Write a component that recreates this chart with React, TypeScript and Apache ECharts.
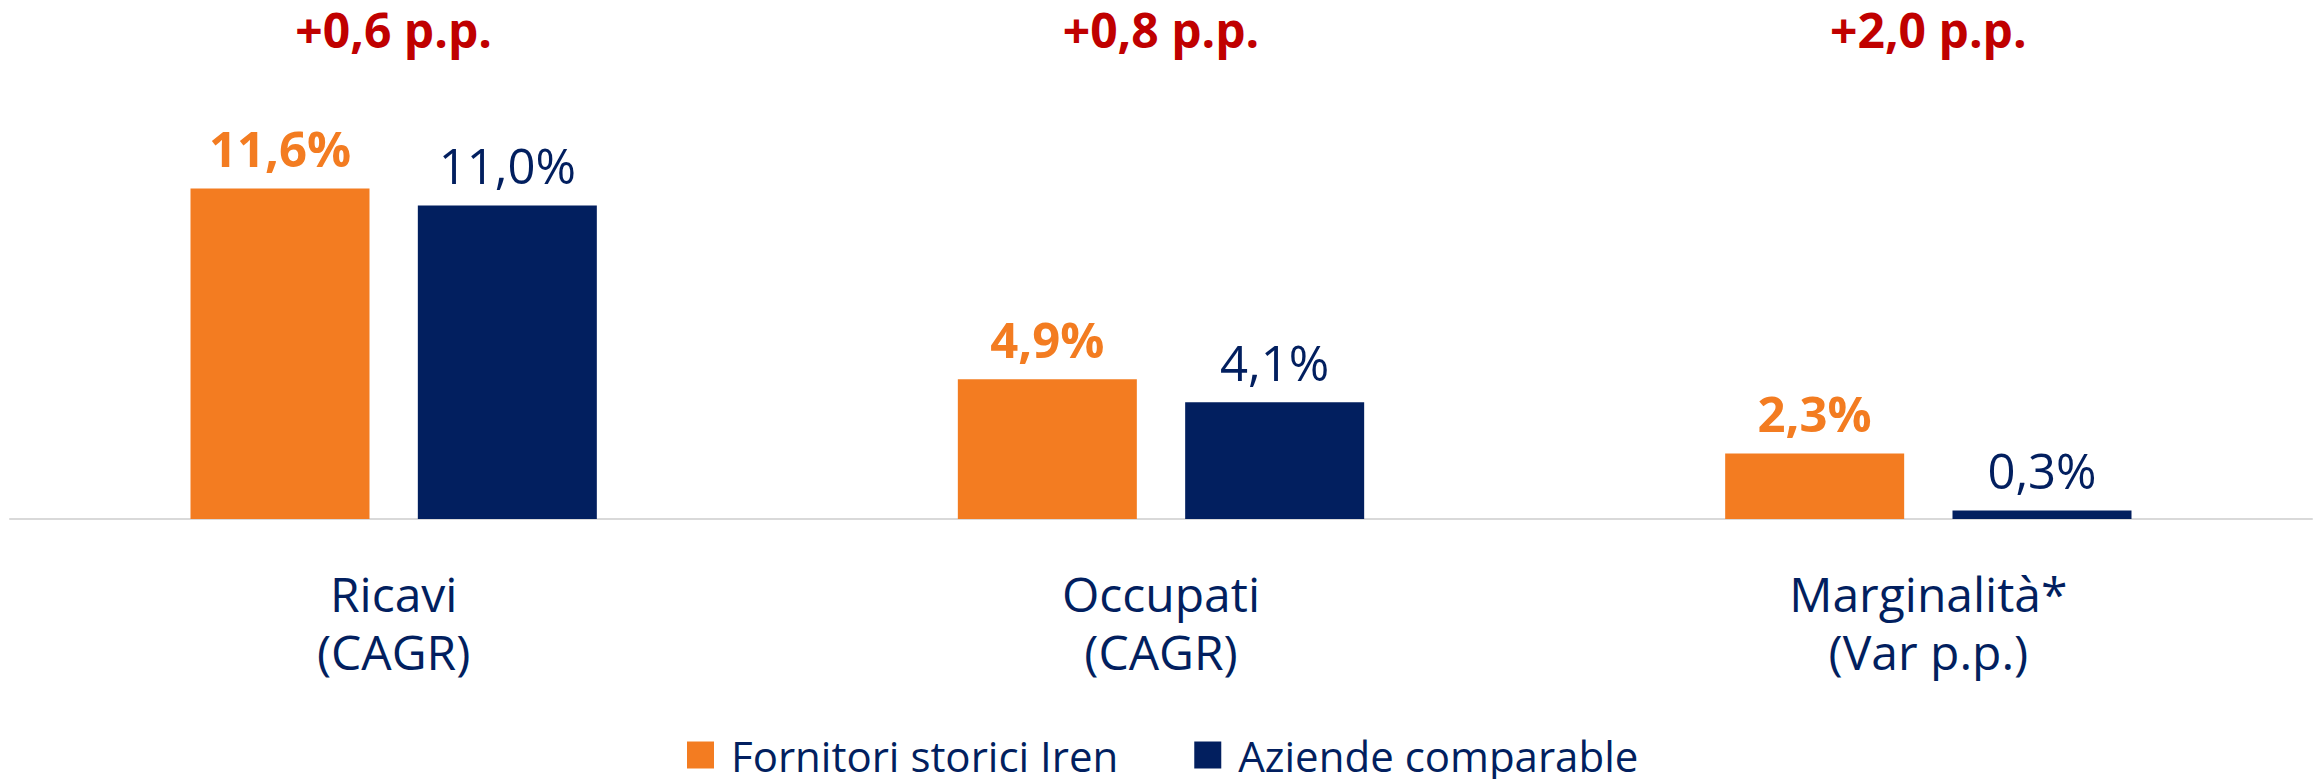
import React, { useEffect, useRef } from "react";
import * as echarts from "echarts";

const categories = ["Ricavi\n(CAGR)", "Occupati\n(CAGR)", "Marginalità*\n(Var p.p.)"];
const deltaLabels = ["+0,6 p.p.", "+0,8 p.p.", "+2,0 p.p."];
const seriesNames = ["Fornitori storici Iren", "Aziende comparable"];
const fornitori = [11.6, 4.9, 2.3];
const aziende = [11.0, 4.1, 0.3];

const ORANGE = "#F37C21";
const NAVY = "#021F5F";
const RED = "#C00000";
const FONT = "'Open Sans', 'Noto Sans', sans-serif";

const fmt = (v: number) => v.toFixed(1).replace(".", ",") + "%";

export default function App() {
  const ref = useRef<HTMLDivElement>(null);
  useEffect(() => {
    if (!ref.current) return;
    const chart = echarts.init(ref.current, undefined, { renderer: "svg" });
    chart.setOption({
      animation: false,
      backgroundColor: "#ffffff",
      textStyle: { fontFamily: FONT },
      grid: { left: 10, right: 6, top: 63, bottom: 260, containLabel: false },
      legend: {
        data: seriesNames,
        left: 682,
        top: 729,
        icon: "rect",
        itemWidth: 27,
        itemHeight: 27,
        itemGap: 76,
        textStyle: {
          fontFamily: FONT,
          fontSize: 42,
          lineHeight: 42,
          color: NAVY,
          padding: [0, 0, 0, 12],
        },
      },
      xAxis: [
        {
          type: "category",
          data: categories,
          axisLine: { show: true, lineStyle: { color: "#D9D9D9", width: 2 } },
          axisTick: { show: false },
          axisLabel: {
            margin: 45,
            fontFamily: FONT,
            fontSize: 48,
            lineHeight: 58,
            color: NAVY,
            interval: 0,
          },
        },
        {
          type: "category",
          position: "top",
          data: deltaLabels,
          axisLine: { show: false },
          axisTick: { show: false },
          axisLabel: {
            margin: 12,
            fontFamily: FONT,
            fontSize: 48,
            lineHeight: 44,
            fontWeight: "bold",
            color: RED,
            interval: 0,
          },
        },
      ],
      yAxis: { type: "value", min: 0, max: 16, show: false, splitLine: { show: false } },
      series: [
        {
          name: seriesNames[0],
          type: "bar",
          data: fornitori,
          barWidth: 179,
          barGap: "27%",
          itemStyle: { color: ORANGE },
          label: {
            show: true,
            position: "top",
            distance: 16,
            fontFamily: FONT,
            fontSize: 49,
            fontWeight: "bold",
            color: ORANGE,
            formatter: (p: any) => fmt(p.value),
          },
        },
        {
          name: seriesNames[1],
          type: "bar",
          data: aziende,
          barWidth: 179,
          barGap: "27%",
          itemStyle: { color: NAVY },
          label: {
            show: true,
            position: "top",
            distance: 16,
            fontFamily: FONT,
            fontSize: 49,
            color: NAVY,
            formatter: (p: any) => fmt(p.value),
          },
        },
      ],
    });
    return () => chart.dispose();
  }, []);
  return (
    <div
      ref={ref}
      style={{ position: "absolute", left: 0, top: 0, width: 2318, height: 779 }}
    />
  );
}
